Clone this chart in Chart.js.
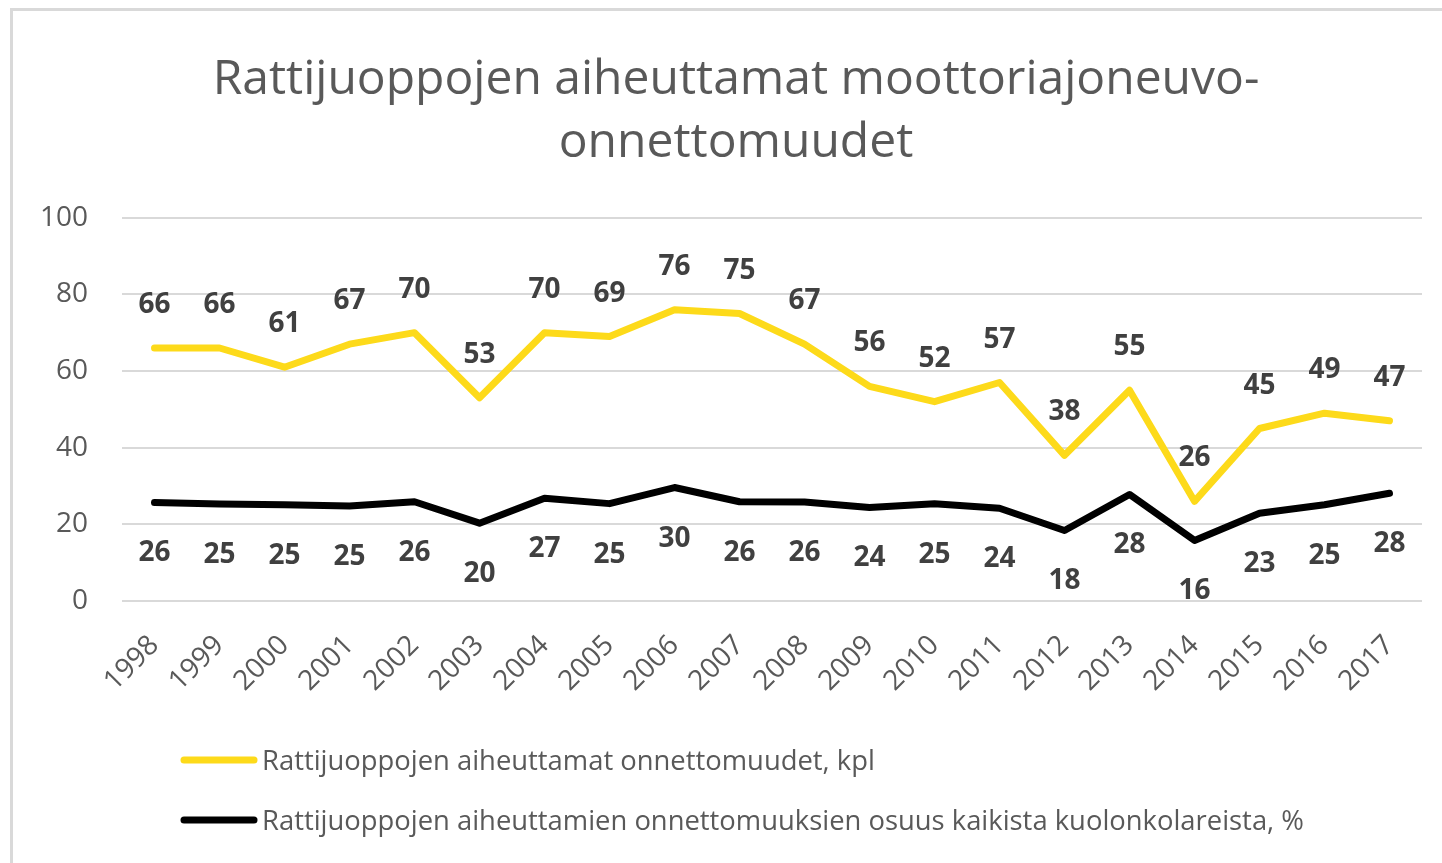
<!DOCTYPE html>
<html>
<head>
<meta charset="utf-8">
<script src="https://cdn.jsdelivr.net/npm/chart.js@4/dist/chart.umd.min.js"></script>
<style>
body{margin:0;background:#fff;}
#wrap{position:absolute;left:10px;top:8px;width:1429px;height:852px;border-left:3px solid #d9d9d9;border-top:3px solid #d9d9d9;}
</style>
</head>
<body>
<div id="wrap"><canvas id="line-chart"></canvas></div>
<script>
const years = ['1998','1999','2000','2001','2002','2003','2004','2005','2006','2007','2008','2009','2010','2011','2012','2013','2014','2015','2016','2017']
const onnettomuudet = [66,66,61,67,70,53,70,69,76,75,67,56,52,57,38,55,26,45,49,47]
const osuus = [25.7,25.3,25.1,24.8,25.9,20.3,26.8,25.4,29.6,25.9,25.8,24.4,25.4,24.2,18.4,27.8,15.8,22.9,25.1,28.1]
const yTicks = [0,20,40,60,80,100]
const titleLines = ['Rattijuoppojen aiheuttamat moottoriajoneuvo-','onnettomuudet']
const seriesNames = ['Rattijuoppojen aiheuttamat onnettomuudet, kpl','Rattijuoppojen aiheuttamien onnettomuuksien osuus kaikista kuolonkolareista, %']

const FONT = "'Open Sans', sans-serif"

// arvot pisteiden päälle / alle
const valueLabels = {
    id: 'valueLabels',
    afterDatasetsDraw(chart) {
        const ctx = chart.ctx
        ctx.save()
        ctx.font = 'bold 28px ' + FONT
        ctx.fillStyle = '#404040'
        ctx.textAlign = 'center'
        ctx.textBaseline = 'alphabetic'
        chart.data.datasets.forEach((ds, i) => {
            chart.getDatasetMeta(i).data.forEach((p, j) => {
                let txt = Math.round(ds.data[j]).toString()
                let y = i == 0 ? p.y - 35 : p.y + 59
                ctx.fillText(txt, p.x, y)
            })
        })
        ctx.restore()
    }
}

// legenda vasemmalle, kaksi riviä
const sideLegend = {
    id: 'sideLegend',
    afterLayout(chart) {
        // otsikko hieman oikealle kuten alkuperäisessä
        chart.titleBlock.left += 19
    },
    afterDraw(chart) {
        const ctx = chart.ctx
        ctx.save()
        chart.data.datasets.forEach((ds, i) => {
            let ly = 749 + i * 60
            ctx.strokeStyle = ds.borderColor
            ctx.lineWidth = 7
            ctx.lineCap = 'round'
            ctx.beginPath()
            ctx.moveTo(171, ly)
            ctx.lineTo(241, ly)
            ctx.stroke()
            ctx.font = '27.4px ' + FONT
            ctx.fillStyle = '#595959'
            ctx.textAlign = 'left'
            ctx.textBaseline = 'alphabetic'
            ctx.fillText(ds.label, 249, ly + 10)
        })
        ctx.restore()
    }
}

new Chart(document.getElementById('line-chart'), {
    type: 'line',
    data: {
        labels: years,
        datasets: [
            {
                label: seriesNames[0],
                data: onnettomuudet,
                borderColor: '#FDDA1A',
                backgroundColor: '#FDDA1A',
                borderWidth: 7,
                pointRadius: 0,
                borderJoinStyle: 'round',
                borderCapStyle: 'round',
                tension: 0
            },
            {
                label: seriesNames[1],
                data: osuus,
                borderColor: '#000000',
                backgroundColor: '#000000',
                borderWidth: 7,
                pointRadius: 0,
                borderJoinStyle: 'round',
                borderCapStyle: 'round',
                tension: 0
            }
        ]
    },
    options: {
        responsive: true,
        maintainAspectRatio: false,
        animation: false,
        layout: {padding: {left: 18, right: 20, top: 0, bottom: 0}},
        plugins: {
            legend: {display: false},
            tooltip: {enabled: false},
            title: {
                display: true,
                text: titleLines,
                color: '#595959',
                font: {family: FONT, size: 48, weight: 'normal', lineHeight: 1.33},
                padding: {top: 37, bottom: 42}
            }
        },
        scales: {
            x: {
                offset: true,
                grid: {display: false},
                border: {display: false},
                ticks: {
                    color: '#595959',
                    font: {family: FONT, size: 28},
                    minRotation: 45,
                    maxRotation: 45,
                    autoSkip: false,
                    padding: 20
                },
                afterFit: s => { s.height = 262 }
            },
            y: {
                min: 0,
                max: 100,
                afterBuildTicks: s => { s.ticks = yTicks.map(v => ({value: v})) },
                grid: {color: '#d9d9d9', lineWidth: 2, drawTicks: false},
                border: {display: false},
                ticks: {
                    color: '#595959',
                    font: {family: FONT, size: 28},
                    padding: 34
                },
                afterFit: s => { s.width = 91 }
            }
        }
    },
    plugins: [valueLabels, sideLegend]
})
</script>
</body>
</html>
